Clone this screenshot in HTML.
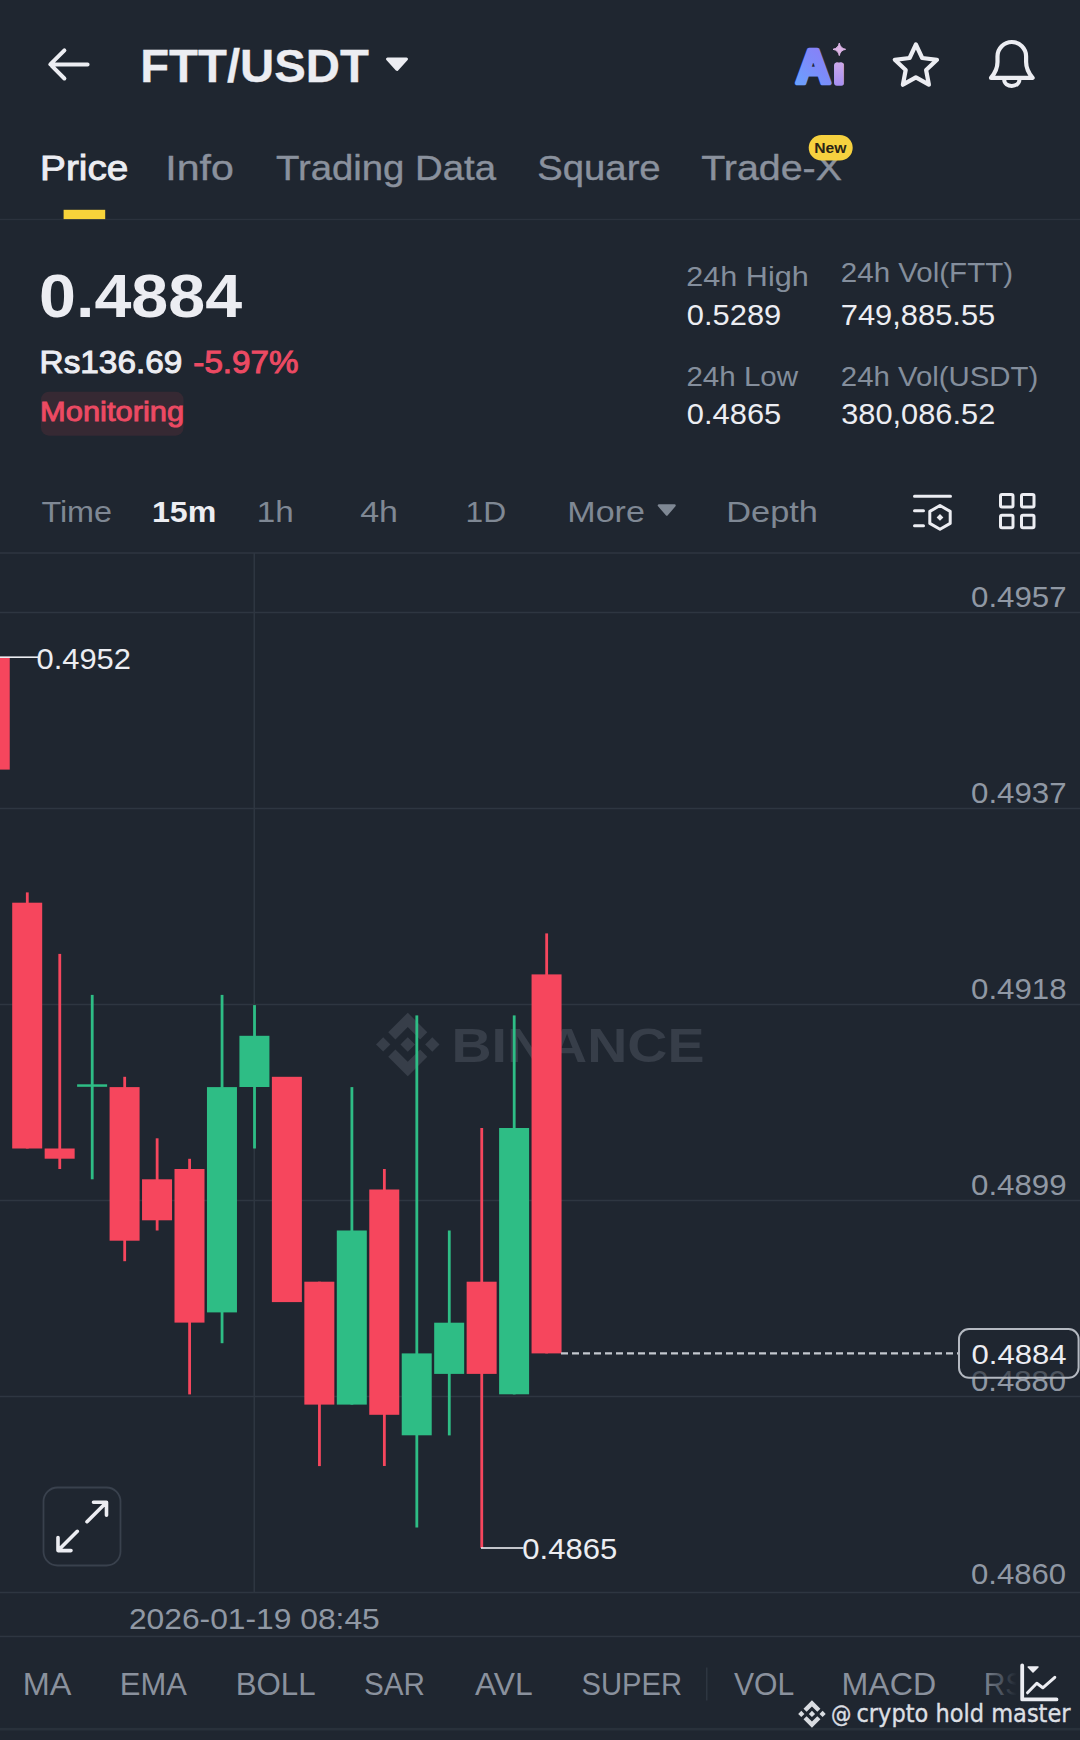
<!DOCTYPE html>
<html lang="en">
<head>
<meta charset="utf-8">
<title>FTT/USDT</title>
<style>
html,body{margin:0;padding:0;background:#1f2630;}
body{width:1080px;height:1740px;overflow:hidden;position:relative;font-family:"Liberation Sans",sans-serif;}
svg{position:absolute;left:0;top:0;display:block;}
text{font-family:"Liberation Sans",sans-serif;}
.dj{font-family:"DejaVu Sans",sans-serif;}
</style>
</head>
<body>
<svg width="1080" height="1740" viewBox="0 0 1080 1740">
<defs>
<linearGradient id="aig" gradientUnits="userSpaceOnUse" x1="796" y1="86" x2="830" y2="50">
<stop offset="0" stop-color="#69a3fe"/><stop offset="0.55" stop-color="#7d8bfa"/><stop offset="1" stop-color="#8b7ef6"/>
</linearGradient>
<linearGradient id="aig2" gradientUnits="userSpaceOnUse" x1="839" y1="62" x2="839" y2="86">
<stop offset="0" stop-color="#cba8ea"/><stop offset="1" stop-color="#a68ff3"/>
</linearGradient>
<clipPath id="aic"><rect x="785" y="40" width="47.8" height="50"/><rect x="834" y="62.6" width="10.2" height="23.2" rx="3"/></clipPath>
<linearGradient id="fade" x1="0" y1="0" x2="1" y2="0">
<stop offset="0" stop-color="#1f2630" stop-opacity="0.1"/><stop offset="0.34" stop-color="#1f2630" stop-opacity="1"/><stop offset="1" stop-color="#1f2630" stop-opacity="1"/>
</linearGradient>
</defs>
<rect width="1080" height="1740" fill="#1f2630"/>

<g id="header">
<path d="M87.6 64.4H50.6M64.4 50.3L50.3 64.4L64.4 78.5" fill="none" stroke="#ecedf2" stroke-width="4" stroke-linecap="round" stroke-linejoin="round"/>
<text x="140.19" y="81.50" font-size="47" font-weight="bold" fill="#ecedf2" stroke="#ecedf2" stroke-width="0.3" textLength="228.63" lengthAdjust="spacingAndGlyphs">FTT/USDT</text>
<path d="M387.5 59H406.5L397 69.5Z" fill="#ecedf2" stroke="#ecedf2" stroke-width="3" stroke-linejoin="round"/>
<text clip-path="url(#aic)" font-weight="bold" stroke-linejoin="round"><tspan x="796" y="83.3" font-size="48" fill="url(#aig)" stroke="url(#aig)" stroke-width="4.6">A</tspan><tspan x="832.6" y="83.6" font-size="46" fill="url(#aig2)" stroke="url(#aig2)" stroke-width="4">i</tspan></text>
<path d="M839.3 43Q840.3 48.3 845.6 49.3Q840.3 50.3 839.3 55.6Q838.3 50.3 833 49.3Q838.3 48.3 839.3 43Z" fill="#dcb4e6" stroke="#dcb4e6" stroke-width="1" stroke-linejoin="round"/>
<polygon points="915.9,44.5 922.2,58.0 937.0,59.8 926.1,70.0 928.9,84.7 915.9,77.4 902.9,84.7 905.7,70.0 894.8,59.8 909.6,58.0" fill="none" stroke="#ecedf2" stroke-width="4.2" stroke-linejoin="round"/>
<path d="M991 77.9C995.5 72.5 997.5 68.5 997.5 62V56.3A14.3 14.3 0 0 1 1026.1 56.3V62C1026.1 68.5 1028.1 72.5 1032.6 77.9Z" fill="none" stroke="#ecedf2" stroke-width="4.2" stroke-linejoin="round"/>
<path d="M1004.2 79.5C1004.2 88 1019.4 88 1019.4 79.5" fill="none" stroke="#ecedf2" stroke-width="4" stroke-linecap="butt"/>
</g>
<g id="tabs">
<text x="40.12" y="180.20" font-size="35.5" font-weight="normal" fill="#ecedf2" stroke="#ecedf2" stroke-width="0.9" textLength="88.30" lengthAdjust="spacingAndGlyphs">Price</text>
<text x="165.29" y="180.20" font-size="35.5" font-weight="normal" fill="#8a919d" stroke="#8a919d" stroke-width="0.4" textLength="68.47" lengthAdjust="spacingAndGlyphs">Info</text>
<text x="275.90" y="180.20" font-size="35.5" font-weight="normal" fill="#8a919d" stroke="#8a919d" stroke-width="0.4" textLength="220.16" lengthAdjust="spacingAndGlyphs">Trading Data</text>
<text x="537.30" y="180.20" font-size="35.5" font-weight="normal" fill="#8a919d" stroke="#8a919d" stroke-width="0.4" textLength="123.35" lengthAdjust="spacingAndGlyphs">Square</text>
<text x="701.29" y="180.20" font-size="35.5" font-weight="normal" fill="#8a919d" stroke="#8a919d" stroke-width="0.4" textLength="140.64" lengthAdjust="spacingAndGlyphs">Trade-X</text>
<rect x="0" y="218.8" width="1080" height="1.3" fill="#2b323d"/>
<rect x="63.6" y="209.8" width="41.6" height="9.3" fill="#f8d33a"/>
<rect x="808.7" y="135" width="44" height="25.6" rx="12.8" fill="#f6d13f"/>
<text x="814.22" y="152.90" font-size="14.2" font-weight="bold" fill="#2a2416" textLength="32.23" lengthAdjust="spacingAndGlyphs">New</text>
</g>
<g id="summary">
<text x="39.03" y="317.00" font-size="61.5" font-weight="bold" fill="#ecedf2" textLength="203.05" lengthAdjust="spacingAndGlyphs">0.4884</text>
<text x="39.60" y="372.60" font-size="31.5" font-weight="normal" fill="#ecedf2" stroke="#ecedf2" stroke-width="1.0" textLength="142.65" lengthAdjust="spacingAndGlyphs">Rs136.69</text>
<text x="193.36" y="372.60" font-size="31.5" font-weight="normal" fill="#ec4a63" stroke="#ec4a63" stroke-width="1.0" textLength="105.13" lengthAdjust="spacingAndGlyphs">-5.97%</text>
<rect x="41" y="391.7" width="142.5" height="44" rx="8" fill="#362933"/>
<text x="40.04" y="420.80" font-size="27" font-weight="normal" fill="#ec4a63" stroke="#ec4a63" stroke-width="0.9" textLength="144.04" lengthAdjust="spacingAndGlyphs">Monitoring</text>
<text x="686.37" y="285.90" font-size="28" font-weight="normal" fill="#848e9c" textLength="122.35" lengthAdjust="spacingAndGlyphs">24h High</text>
<text x="686.84" y="324.60" font-size="28.7" font-weight="normal" fill="#ecedf2" textLength="94.42" lengthAdjust="spacingAndGlyphs">0.5289</text>
<text x="686.41" y="385.90" font-size="28" font-weight="normal" fill="#848e9c" textLength="111.72" lengthAdjust="spacingAndGlyphs">24h Low</text>
<text x="686.84" y="424.20" font-size="28.7" font-weight="normal" fill="#ecedf2" textLength="94.42" lengthAdjust="spacingAndGlyphs">0.4865</text>
<text x="840.82" y="282.20" font-size="28" font-weight="normal" fill="#848e9c" textLength="172.21" lengthAdjust="spacingAndGlyphs">24h Vol(FTT)</text>
<text x="840.75" y="324.60" font-size="28.7" font-weight="normal" fill="#ecedf2" textLength="154.50" lengthAdjust="spacingAndGlyphs">749,885.55</text>
<text x="840.82" y="385.90" font-size="28" font-weight="normal" fill="#848e9c" textLength="197.40" lengthAdjust="spacingAndGlyphs">24h Vol(USDT)</text>
<text x="841.24" y="424.20" font-size="28.7" font-weight="normal" fill="#ecedf2" textLength="154.01" lengthAdjust="spacingAndGlyphs">380,086.52</text>
</g>
<g id="toolbar">
<text x="41.40" y="522.20" font-size="29.8" font-weight="normal" fill="#7f8894" textLength="70.61" lengthAdjust="spacingAndGlyphs">Time</text>
<text x="151.99" y="522.20" font-size="29.8" font-weight="bold" fill="#ecedf2" textLength="64.37" lengthAdjust="spacingAndGlyphs">15m</text>
<text x="256.82" y="522.20" font-size="29.8" font-weight="normal" fill="#7f8894" textLength="36.94" lengthAdjust="spacingAndGlyphs">1h</text>
<text x="360.17" y="522.20" font-size="29.8" font-weight="normal" fill="#7f8894" textLength="37.74" lengthAdjust="spacingAndGlyphs">4h</text>
<text x="465.52" y="522.20" font-size="29.8" font-weight="normal" fill="#7f8894" textLength="40.58" lengthAdjust="spacingAndGlyphs">1D</text>
<text x="567.34" y="522.20" font-size="29.8" font-weight="normal" fill="#7f8894" textLength="77.54" lengthAdjust="spacingAndGlyphs">More</text>
<path d="M659 505.5H674.5L666.8 514.5Z" fill="#7f8894" stroke="#7f8894" stroke-width="2.5" stroke-linejoin="round"/>
<text x="726.32" y="522.20" font-size="29.8" font-weight="normal" fill="#7f8894" textLength="91.61" lengthAdjust="spacingAndGlyphs">Depth</text>
<g fill="none" stroke="#ecedf2" stroke-width="3" stroke-linecap="round" stroke-linejoin="round">
<path d="M914.5 496.3H950.5M914.5 510.8H923.5M914.5 525.8H923.5"/>
<path d="M940 505.5L950.2 511.4V523.4L940 529.3L929.8 523.4V511.4Z"/>
</g>
<path d="M940 514L943.4 517.4L940 520.8L936.6 517.4Z" fill="#ecedf2"/>
<g fill="none" stroke="#ecedf2" stroke-width="3" stroke-linejoin="round">
<rect x="1000.5" y="494.5" width="12.5" height="12.5" rx="1.5"/>
<rect x="1000.5" y="515.2" width="12.5" height="12.5" rx="1.5"/>
<rect x="1021.5" y="494.5" width="12.5" height="12.5" rx="1.5"/>
<rect x="1021.5" y="515.2" width="12.5" height="12.5" rx="1.5"/>
</g>
<rect x="0" y="552" width="1080" height="2" fill="#2a313c"/>
</g>
<g id="chart">
<rect x="0" y="611.75" width="1080" height="1.5" fill="#2e3641"/>
<rect x="0" y="807.75" width="1080" height="1.5" fill="#2e3641"/>
<rect x="0" y="1003.75" width="1080" height="1.5" fill="#2e3641"/>
<rect x="0" y="1199.75" width="1080" height="1.5" fill="#2e3641"/>
<rect x="0" y="1395.75" width="1080" height="1.5" fill="#2e3641"/>
<rect x="0" y="1591.75" width="1080" height="1.5" fill="#2e3641"/>
<rect x="253.5" y="553" width="1.5" height="1039.5" fill="#2e3641"/>
<g transform="translate(376 1012.7) scale(0.5015)" fill="#373e49"><path d="m38.73 53.2 24.59-24.58 24.6 24.6 14.3-14.31-38.9-38.91-38.9 38.9z"/><path d="m0 63.31 14.3-14.31 14.31 14.31-14.31 14.3z"/><path d="m38.73 73.41 24.59 24.59 24.6-24.6 14.31 14.29-38.9 38.91-38.91-38.88z"/><path d="m98 63.31 14.3-14.31 14.31 14.3-14.31 14.32z"/><path d="m77.83 63.3-14.51-14.52-10.73 10.73-1.24 1.23-2.54 2.54 14.51 14.5 14.51-14.47z"/></g>
<text x="451.53" y="1062.00" font-size="47.5" font-weight="bold" fill="#373e49" textLength="252.93" lengthAdjust="spacingAndGlyphs">BINANCE</text>
<rect x="-20.26" y="656.9" width="30" height="112.7" fill="#f6465d"/>
<rect x="25.90" y="892.4" width="2.8" height="256.1" fill="#f6465d"/>
<rect x="12.20" y="902.7" width="30" height="245.8" fill="#f6465d"/>
<rect x="58.36" y="953.9" width="2.8" height="215.1" fill="#f6465d"/>
<rect x="44.66" y="1148.5" width="30" height="10.2" fill="#f6465d"/>
<rect x="90.82" y="994.9" width="2.8" height="184.4" fill="#2ebd85"/>
<rect x="77.12" y="1084.3" width="30" height="2.5" fill="#2ebd85"/>
<rect x="123.28" y="1076.8" width="2.8" height="184.4" fill="#f6465d"/>
<rect x="109.58" y="1087.1" width="30" height="153.6" fill="#f6465d"/>
<rect x="155.74" y="1138.3" width="2.8" height="92.2" fill="#f6465d"/>
<rect x="142.04" y="1179.3" width="30" height="41.0" fill="#f6465d"/>
<rect x="188.20" y="1158.8" width="2.8" height="235.6" fill="#f6465d"/>
<rect x="174.50" y="1169.0" width="30" height="153.6" fill="#f6465d"/>
<rect x="220.66" y="994.9" width="2.8" height="348.3" fill="#2ebd85"/>
<rect x="206.96" y="1087.1" width="30" height="225.3" fill="#2ebd85"/>
<rect x="253.12" y="1005.1" width="2.8" height="143.4" fill="#2ebd85"/>
<rect x="239.42" y="1035.8" width="30" height="51.2" fill="#2ebd85"/>
<rect x="271.88" y="1076.8" width="30" height="225.3" fill="#f6465d"/>
<rect x="318.04" y="1281.7" width="2.8" height="184.4" fill="#f6465d"/>
<rect x="304.34" y="1281.7" width="30" height="122.9" fill="#f6465d"/>
<rect x="350.50" y="1087.1" width="2.8" height="317.5" fill="#2ebd85"/>
<rect x="336.80" y="1230.5" width="30" height="174.1" fill="#2ebd85"/>
<rect x="382.96" y="1169.0" width="2.8" height="297.0" fill="#f6465d"/>
<rect x="369.26" y="1189.5" width="30" height="225.3" fill="#f6465d"/>
<rect x="415.42" y="1015.4" width="2.8" height="512.1" fill="#2ebd85"/>
<rect x="401.72" y="1353.4" width="30" height="81.9" fill="#2ebd85"/>
<rect x="447.88" y="1230.5" width="2.8" height="204.9" fill="#2ebd85"/>
<rect x="434.18" y="1322.7" width="30" height="51.2" fill="#2ebd85"/>
<rect x="480.34" y="1128.0" width="2.8" height="420.0" fill="#f6465d"/>
<rect x="466.64" y="1281.7" width="30" height="92.2" fill="#f6465d"/>
<rect x="512.80" y="1015.4" width="2.8" height="379.0" fill="#2ebd85"/>
<rect x="499.10" y="1128.0" width="30" height="266.3" fill="#2ebd85"/>
<rect x="545.26" y="933.4" width="2.8" height="420.0" fill="#f6465d"/>
<rect x="531.56" y="974.4" width="30" height="379.0" fill="#f6465d"/>
<rect x="0" y="656.4" width="38" height="1.6" fill="#ecedf2"/>
<text x="36.54" y="668.80" font-size="29.3" font-weight="normal" fill="#ecedf2" textLength="94.42" lengthAdjust="spacingAndGlyphs">0.4952</text>
<rect x="481" y="1547.2" width="42.5" height="1.6" fill="#ecedf2"/>
<text x="522.33" y="1559.00" font-size="29.3" font-weight="normal" fill="#ecedf2" textLength="94.93" lengthAdjust="spacingAndGlyphs">0.4865</text>
<text x="971.02" y="607.00" font-size="29.5" font-weight="normal" fill="#9098a4" textLength="95.54" lengthAdjust="spacingAndGlyphs">0.4957</text>
<text x="971.02" y="803.00" font-size="29.5" font-weight="normal" fill="#9098a4" textLength="95.54" lengthAdjust="spacingAndGlyphs">0.4937</text>
<text x="971.02" y="999.00" font-size="29.5" font-weight="normal" fill="#9098a4" textLength="95.54" lengthAdjust="spacingAndGlyphs">0.4918</text>
<text x="971.02" y="1195.00" font-size="29.5" font-weight="normal" fill="#9098a4" textLength="95.54" lengthAdjust="spacingAndGlyphs">0.4899</text>
<text x="971.03" y="1391.00" font-size="29.5" font-weight="normal" fill="#9098a4" textLength="95.04" lengthAdjust="spacingAndGlyphs">0.4880</text>
<text x="971.03" y="1584.00" font-size="29.5" font-weight="normal" fill="#9098a4" textLength="95.04" lengthAdjust="spacingAndGlyphs">0.4860</text>
<path d="M561 1353.3H958" stroke="#c3c7ce" stroke-width="2.2" stroke-dasharray="7 4" fill="none"/>
<rect x="959" y="1329" width="119.6" height="48.8" rx="10" fill="#1f2630" fill-opacity="0.6" stroke="#b4b9c1" stroke-width="2"/>
<text x="971.53" y="1364.40" font-size="28.4" font-weight="normal" fill="#ecedf2" textLength="95.04" lengthAdjust="spacingAndGlyphs">0.4884</text>
<rect x="43.5" y="1487.5" width="77" height="78" rx="14" fill="#1f2630" stroke="#39414d" stroke-width="1.8"/>
<path d="M87 1521.7L106 1502.7M93.5 1502.2H106.5V1515.2M77.3 1531.3L58.3 1550.3M58 1537.5V1550.6H71" fill="none" stroke="#ecedf2" stroke-width="3.6" stroke-linecap="round" stroke-linejoin="round"/>
<text x="128.91" y="1628.60" font-size="29.8" font-weight="normal" fill="#9098a4" textLength="250.88" lengthAdjust="spacingAndGlyphs">2026-01-19 08:45</text>
<rect x="0" y="1635.7" width="1080" height="1.5" fill="#2e3641"/>
</g>
<g id="indicators">
<text x="22.66" y="1695.10" font-size="31.4" font-weight="normal" fill="#8a919d" textLength="48.68" lengthAdjust="spacingAndGlyphs">MA</text>
<text x="119.78" y="1695.10" font-size="31.4" font-weight="normal" fill="#8a919d" textLength="67.07" lengthAdjust="spacingAndGlyphs">EMA</text>
<text x="235.66" y="1695.10" font-size="31.4" font-weight="normal" fill="#8a919d" textLength="79.92" lengthAdjust="spacingAndGlyphs">BOLL</text>
<text x="364.07" y="1695.10" font-size="31.4" font-weight="normal" fill="#8a919d" textLength="60.95" lengthAdjust="spacingAndGlyphs">SAR</text>
<text x="475.00" y="1695.10" font-size="31.4" font-weight="normal" fill="#8a919d" textLength="57.79" lengthAdjust="spacingAndGlyphs">AVL</text>
<text x="581.59" y="1695.10" font-size="31.4" font-weight="normal" fill="#8a919d" textLength="100.42" lengthAdjust="spacingAndGlyphs">SUPER</text>
<text x="734.00" y="1695.10" font-size="31.4" font-weight="normal" fill="#8a919d" textLength="60.25" lengthAdjust="spacingAndGlyphs">VOL</text>
<text x="841.49" y="1695.10" font-size="31.4" font-weight="normal" fill="#8a919d" textLength="94.62" lengthAdjust="spacingAndGlyphs">MACD</text>
<text x="983.65" y="1695.10" font-size="31.4" font-weight="normal" fill="#8a919d" textLength="50.06" lengthAdjust="spacingAndGlyphs">RSI</text>
<rect x="706" y="1667.5" width="1.5" height="33" fill="#2e3641"/>
<rect x="984" y="1650" width="96" height="70" fill="url(#fade)"/>
<path d="M1022.2 1665.5V1699.4H1056.5" fill="none" stroke="#ecedf2" stroke-width="3.8" stroke-linecap="round" stroke-linejoin="round"/>
<path d="M1027.5 1692.8L1036.8 1683.3L1042.8 1687.8L1054.8 1677.3" fill="none" stroke="#ecedf2" stroke-width="3" stroke-linecap="round" stroke-linejoin="round"/>
<path d="M1028.2 1667H1038L1033 1672Z" fill="#ecedf2" stroke="#ecedf2" stroke-width="1.5" stroke-linejoin="round"/>
<rect x="0" y="1727.9" width="1080" height="2.6" fill="#29313b"/>
<g transform="translate(798.2 1700.2) scale(0.2172)" fill="#d9dce1"><path d="m38.73 53.2 24.59-24.58 24.6 24.6 14.3-14.31-38.9-38.91-38.9 38.9z"/><path d="m0 63.31 14.3-14.31 14.31 14.31-14.31 14.3z"/><path d="m38.73 73.41 24.59 24.59 24.6-24.6 14.31 14.29-38.9 38.91-38.91-38.88z"/><path d="m98 63.31 14.3-14.31 14.31 14.3-14.31 14.32z"/><path d="m77.83 63.3-14.51-14.52-10.73 10.73-1.24 1.23-2.54 2.54 14.51 14.5 14.51-14.47z"/></g>
<text x="830.93" y="1722.00" font-size="22.5" font-weight="normal" fill="#dcdfe3" stroke="#dcdfe3" stroke-width="0.4" textLength="20.34" lengthAdjust="spacingAndGlyphs" class="dj">@</text>
<text x="856.44" y="1722.00" font-size="24" font-weight="normal" fill="#dcdfe3" stroke="#dcdfe3" stroke-width="0.4" textLength="214.11" lengthAdjust="spacingAndGlyphs" class="dj">crypto hold master</text>
</g>
</svg>
</body>
</html>
